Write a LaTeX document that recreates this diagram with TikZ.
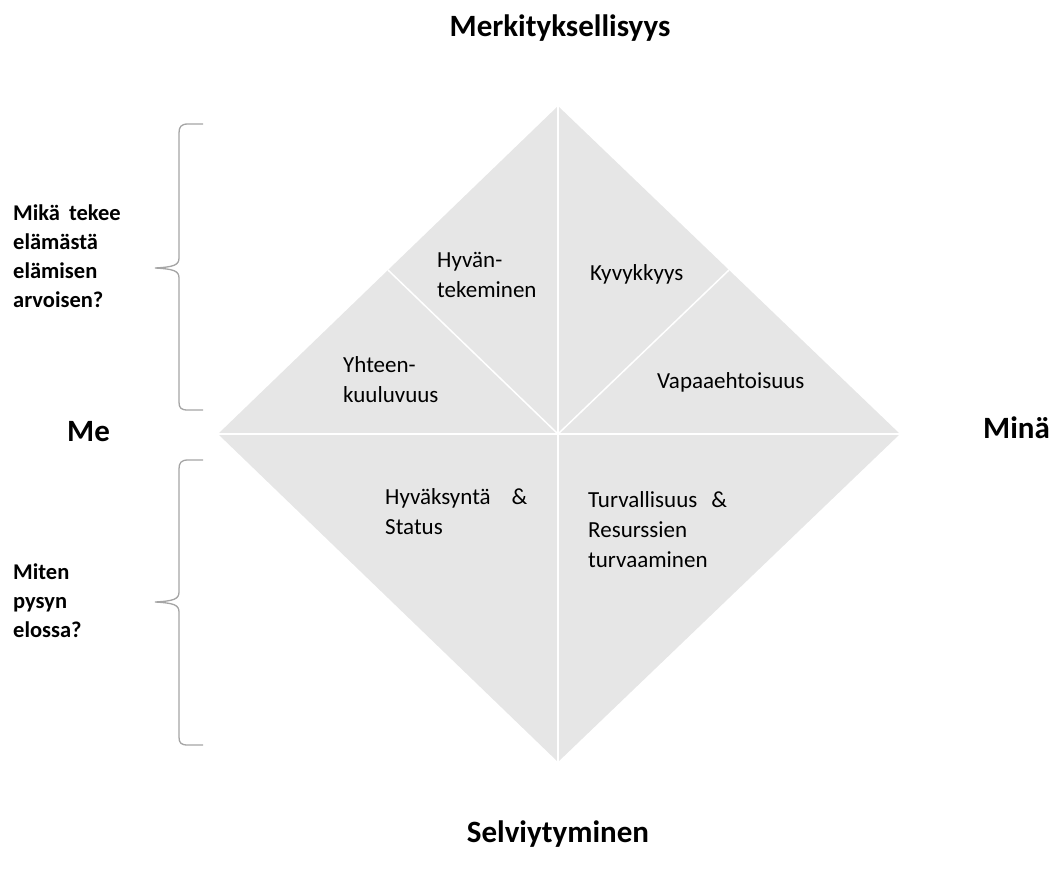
\documentclass[tikz,border=0pt]{standalone}
\usepackage{fontspec}
\setmainfont{Carlito}
\definecolor{tilegray}{RGB}{230,230,230}
\definecolor{bracegray}{RGB}{165,165,165}
\begin{document}
\begin{tikzpicture}[x=1pt,y=-1pt,
  tile/.style={fill=tilegray},
  divider/.style={draw=white,line width=1.5pt},
  axislabel/.style={font=\fontsize{31}{37}\selectfont\bfseries,inner sep=0pt},
  question/.style={font=\fontsize{22.5}{29}\selectfont\bfseries,align=left,inner sep=0pt,anchor=base west},
  item/.style={font=\fontsize{23}{30}\selectfont,align=left,inner sep=0pt,anchor=base west},
  bracket/.style={draw=bracegray,line width=1.3pt}]
\useasboundingbox (0,0) rectangle (1052,872);

% corners of the diamond and its inner division points
\coordinate (top) at (558,106);
\coordinate (lft) at (218,434);
\coordinate (rgt) at (900,434);
\coordinate (bot) at (558,762);
\coordinate (ctr) at (558,434);
\coordinate (midL) at (388,270);
\coordinate (midR) at (729,270);

\fill[tile] (top) -- (rgt) -- (bot) -- (lft) -- cycle;
\draw[divider] (lft) -- (rgt);
\draw[divider] (top) -- (bot);
\draw[divider] (midL) -- (ctr);
\draw[divider] (midR) -- (ctr);

% axis labels
\node[axislabel,anchor=base] (meaning) at (560,37) {Merkityksellisyys};
\node[axislabel,anchor=base] (survival) at (558,842) {Selviytyminen};
\node[axislabel,anchor=base west] (we) at (67,441) {Me};
\node[axislabel,anchor=base west] (self) at (983,438) {Minä};

% sections of the diamond (multi-line nodes sit on their last baseline)
\node[item] (good) at (437,297) {Hyvän-\\tekeminen};
\node[item] (skill) at (590,280) {Kyvykkyys};
\node[item] (belong) at (343,402) {Yhteen-\\kuuluvuus};
\node[item] (free) at (657,388) {Vapaaehtoisuus};
\node[item] (accept) at (385,534) {Hyväksyntä\hspace{21pt}\&\\Status};
\node[item] (safe) at (588,567) {Turvallisuus\hspace{14pt}\&\\Resurssien\\turvaaminen};

% questions with their braces
\node[question] (worth) at (13,307) {Mikä\hspace{9pt}tekee\\elämästä\\elämisen\\arvoisen?};
\node[question] (alive) at (13,637) {Miten\\pysyn\\elossa?};

\draw[bracket] (203,124) -- (188,124) .. controls (181,124) and (179,127) .. (179,133)
  -- (179,258) .. controls (179,265) and (174,267) .. (155,268)
  .. controls (174,269) and (179,271) .. (179,278)
  -- (179,402) .. controls (179,408) and (181,410) .. (188,410) -- (203,410);
\draw[bracket] (203,460) -- (188,460) .. controls (181,460) and (179,463) .. (179,469)
  -- (179,592) .. controls (179,599) and (174,601) .. (155,602)
  .. controls (174,603) and (179,605) .. (179,612)
  -- (179,737) .. controls (179,743) and (181,745) .. (188,745) -- (203,745);
\end{tikzpicture}
\end{document}
